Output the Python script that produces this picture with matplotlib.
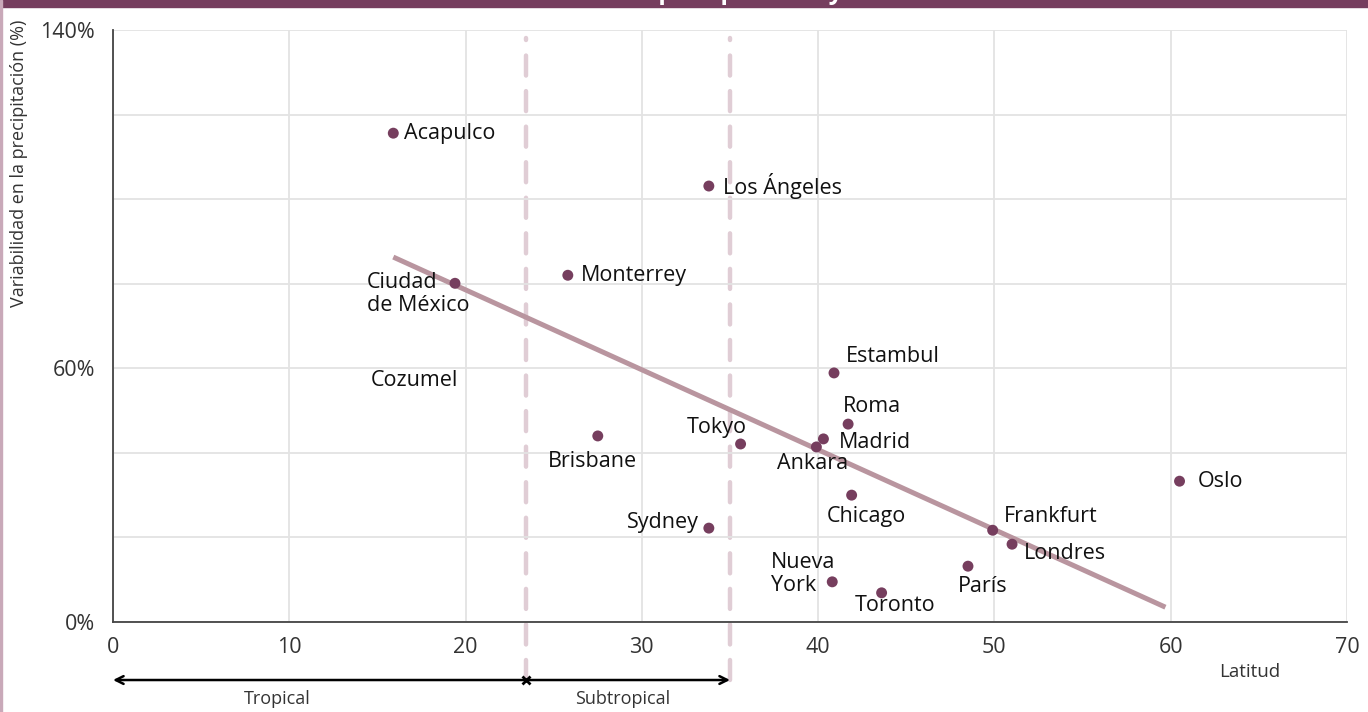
import numpy as np
import matplotlib.pyplot as plt
from matplotlib.patches import Rectangle

plt.rcParams['font.family'] = ['Open Sans', 'DejaVu Sans']

# datos
ciudades = ["Acapulco", "Los Ángeles", "Ciudad\nde México", "Monterrey", "Estambul", "Roma",
            "Madrid", "Ankara", "Tokyo", "Brisbane", "Chicago", "Sydney", "Frankfurt",
            "Londres", "París", "Nueva\nYork", "Toronto", "Oslo"]
latitud = [15.9, 33.8, 19.4, 25.8, 40.9, 41.7, 40.3, 39.9, 35.6, 27.5, 41.9, 33.8, 49.9,
           51.0, 48.5, 40.8, 43.6, 60.5]
variabilidad = [115.6, 103.1, 80.1, 82.0, 58.9, 46.8, 43.3, 41.4, 42.1, 44.0, 30.0, 22.2,
                21.7, 18.4, 13.2, 9.5, 6.9, 33.3]

# Cozumel aparece solo con etiqueta
cozumel_pos = (17.1, 57.0)

# línea de tendencia (extremos)
tendencia_x = [15.9, 59.7]
tendencia_y = [86.3, 3.5]

tropico = 23.4
subtropico = 35.0

# posición de etiquetas (offset en pixeles, alineación)
etiquetas = {
    "Acapulco": (11, 0, 'left'),
    "Los Ángeles": (14, 0, 'left'),
    "Ciudad\nde México": (-88, -11, 'left'),
    "Monterrey": (13, 0, 'left'),
    "Estambul": (12, 16, 'left'),
    "Roma": (-5, 18, 'left'),
    "Madrid": (15, -4, 'left'),
    "Ankara": (-4, -17, 'center'),
    "Tokyo": (-24, 16, 'center'),
    "Brisbane": (-5, -26, 'center'),
    "Chicago": (15, -21, 'center'),
    "Sydney": (-10, 6, 'right'),
    "Frankfurt": (11, 14, 'left'),
    "Londres": (12, -9, 'left'),
    "París": (15, -20, 'center'),
    "Nueva\nYork": (-61, 8, 'left'),
    "Toronto": (13, -13, 'center'),
    "Oslo": (18, 0, 'left'),
}

morado = '#763e5e'

fig = plt.figure(figsize=(13.68, 7.12), dpi=100)
ax = fig.add_axes([113 / 1368, 1 - 622 / 712, 1234 / 1368, 592 / 712])

# banda superior y borde izquierdo
fig.patches.append(Rectangle((0, 1 - 7 / 712), 1, 7 / 712, transform=fig.transFigure,
                             color=morado, zorder=0))
fig.patches.append(Rectangle((0, 0), 2 / 1368, 1, transform=fig.transFigure,
                             color='#c9a9b9', zorder=0))
# título (queda cortado en el borde superior, como en el original)
fig.text(0.5, 1 + 1 / 712, "Variabilidad en la precipitación y latitud", color='white',
         fontsize=18, fontweight='bold', ha='center', va='baseline')

ax.set_xlim(0, 70)
ax.set_ylim(0, 140)
ax.set_xticks(np.arange(0, 71, 10))
ax.set_yticks(np.arange(0, 141, 20))
ax.set_yticklabels(['0%', '', '', '60%', '', '', '', '140%'])
ax.grid(True, color='#e3e3e3', linewidth=1.3, zorder=0)
ax.tick_params(length=0, labelsize=15.5, colors='#333333')
ax.tick_params(axis='x', pad=11)
ax.tick_params(axis='y', pad=13)
for s in ['top', 'right']:
    ax.spines[s].set_visible(False)
for s in ['left', 'bottom']:
    ax.spines[s].set_color('#444444')
    ax.spines[s].set_linewidth(1.3)

# líneas de los trópicos
for xv in [tropico, subtropico]:
    ax.axvline(xv, ymin=-0.098, ymax=0.986, color='#e0cdd5', linewidth=3.2,
               linestyle=(0, (4.5, 3.5)), dash_capstyle='round', clip_on=False, zorder=1)

ax.plot(tendencia_x, tendencia_y, color='#b9959f', linewidth=3.6, solid_capstyle='butt', zorder=2)
ax.scatter(latitud, variabilidad, s=62, color=morado, zorder=3, edgecolors='none')

for c, x, y in zip(ciudades, latitud, variabilidad):
    dx, dy, ha = etiquetas[c]
    ax.annotate(c, (x, y), xytext=(dx, dy), textcoords='offset pixels', ha=ha, va='center',
                fontsize=15.5, color='#111111', zorder=4, linespacing=1.1)
ax.text(cozumel_pos[0], cozumel_pos[1], "Cozumel", ha='center', va='center', fontsize=15.5,
        color='#111111')

# flechas de zonas
trans = ax.get_xaxis_transform()
y_flecha = -0.098
ax.annotate('', xy=(0, y_flecha), xytext=(tropico, y_flecha), xycoords=trans, textcoords=trans,
            arrowprops=dict(arrowstyle='->', color='black', lw=1.8, shrinkA=0, shrinkB=0,
                            mutation_scale=14), annotation_clip=False)
ax.annotate('', xy=(subtropico, y_flecha), xytext=(tropico, y_flecha), xycoords=trans,
            textcoords=trans,
            arrowprops=dict(arrowstyle='->', color='black', lw=1.8, shrinkA=0, shrinkB=0,
                            mutation_scale=14), annotation_clip=False)
ax.plot([tropico], [y_flecha], marker='x', color='black', markersize=6, mew=2,
        transform=trans, clip_on=False)
ax.text(9.3, -0.13, "Tropical", transform=trans, ha='center', va='center', fontsize=13,
        color='#333333')
ax.text(28.9, -0.13, "Subtropical", transform=trans, ha='center', va='center', fontsize=13,
        color='#333333')
ax.text(64.5, -0.085, "Latitud", transform=trans, ha='center', va='center', fontsize=13.5,
        color='#333333')

fig.text(19 / 1368, 1 - 20 / 712, "Variabilidad en la precipitación (%)", rotation=90,
         ha='center', va='top', fontsize=13, color='#333333')

fig.savefig('out.png', dpi=100)
